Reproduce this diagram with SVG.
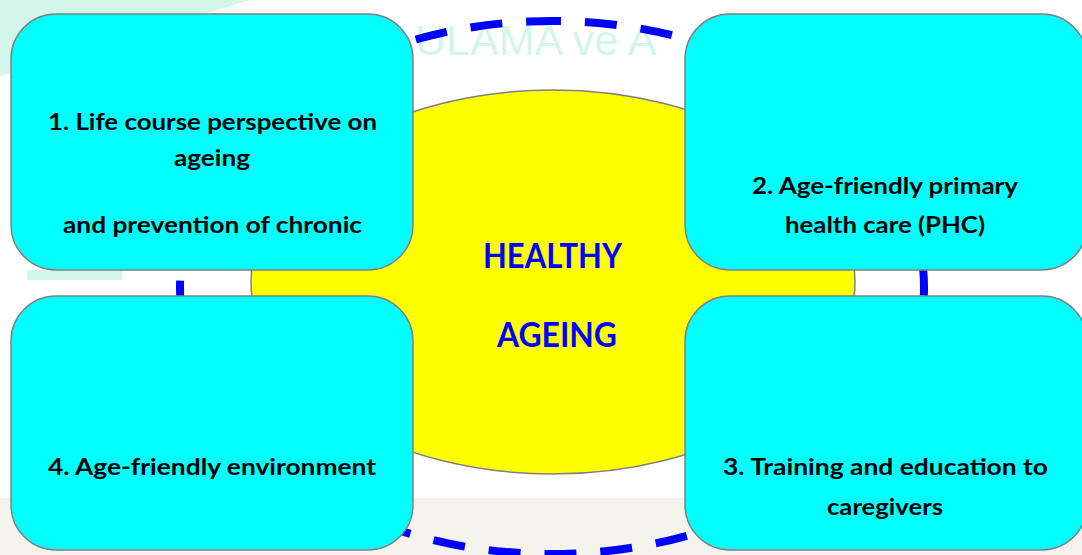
<svg xmlns="http://www.w3.org/2000/svg" width="1082" height="555" viewBox="0 0 1082 555">
<style>
.box{fill:#00ffff;stroke:#808080;stroke-width:1.5}
.lbl{font-family:Lato,"Open Sans","Liberation Sans",sans-serif;font-weight:bold;font-size:23px;fill:#000;text-anchor:middle}
.big{font-family:Lato,"Open Sans","Liberation Sans",sans-serif;font-weight:bold;font-size:35px;fill:#0000ff;text-anchor:middle}
.wm{fill:#d3f6ea}
</style>
<rect x="0" y="0" width="1082" height="555" fill="#ffffff"/>
<rect x="0" y="498" width="1082" height="57" fill="#f4f3ee"/>
<g id="watermark">
<polygon class="wm" points="0,0 250,0 0,76"/>
<rect class="wm" x="27" y="270" width="95" height="10"/>
<text x="415" y="55" font-family="'Liberation Sans',Arial,sans-serif" font-size="43" class="wm">ULAMA ve A</text>
</g>
<g id="connectors">
<path d="M529,21.5 A372,266.5 0 0 1 575,553.5 A372,266.5 0 0 1 529,21.5" fill="none" stroke="#0000ff" stroke-width="8" stroke-dasharray="32 24"/>
</g>
<g id="center">
<ellipse cx="553" cy="282" rx="302" ry="192" fill="#ffff00" stroke="#808080" stroke-width="1.5"/>
<text class="big" x="552.5" y="268" textLength="139" lengthAdjust="spacingAndGlyphs">HEALTHY</text>
<text class="big" x="557" y="347" textLength="120" lengthAdjust="spacingAndGlyphs">AGEING</text>
</g>
<g id="node1">
<rect class="box" x="11" y="14" width="402" height="256" rx="45" ry="45"/>
<text class="lbl" x="212.5" y="130" textLength="329" lengthAdjust="spacingAndGlyphs">1. Life course perspective on</text>
<text class="lbl" x="212" y="166" textLength="76" lengthAdjust="spacingAndGlyphs">ageing</text>
<text class="lbl" x="212.5" y="233" textLength="299" lengthAdjust="spacingAndGlyphs">and prevention of chronic</text>
</g>
<g id="node2">
<rect class="box" x="685" y="14" width="402" height="256" rx="45" ry="45"/>
<text class="lbl" x="885" y="194" textLength="266" lengthAdjust="spacingAndGlyphs">2. Age-friendly primary</text>
<text class="lbl" x="885" y="233" textLength="200" lengthAdjust="spacingAndGlyphs">health care (PHC)</text>
</g>
<g id="node3">
<rect class="box" x="685" y="296" width="402" height="254" rx="45" ry="45"/>
<text class="lbl" x="885.5" y="475" textLength="325" lengthAdjust="spacingAndGlyphs">3. Training and education to</text>
<text class="lbl" x="885" y="515" textLength="116" lengthAdjust="spacingAndGlyphs">caregivers</text>
</g>
<g id="node4">
<rect class="box" x="11" y="296" width="402" height="254" rx="45" ry="45"/>
<text class="lbl" x="212" y="475" textLength="328" lengthAdjust="spacingAndGlyphs">4. Age-friendly environment</text>
</g>
</svg>
